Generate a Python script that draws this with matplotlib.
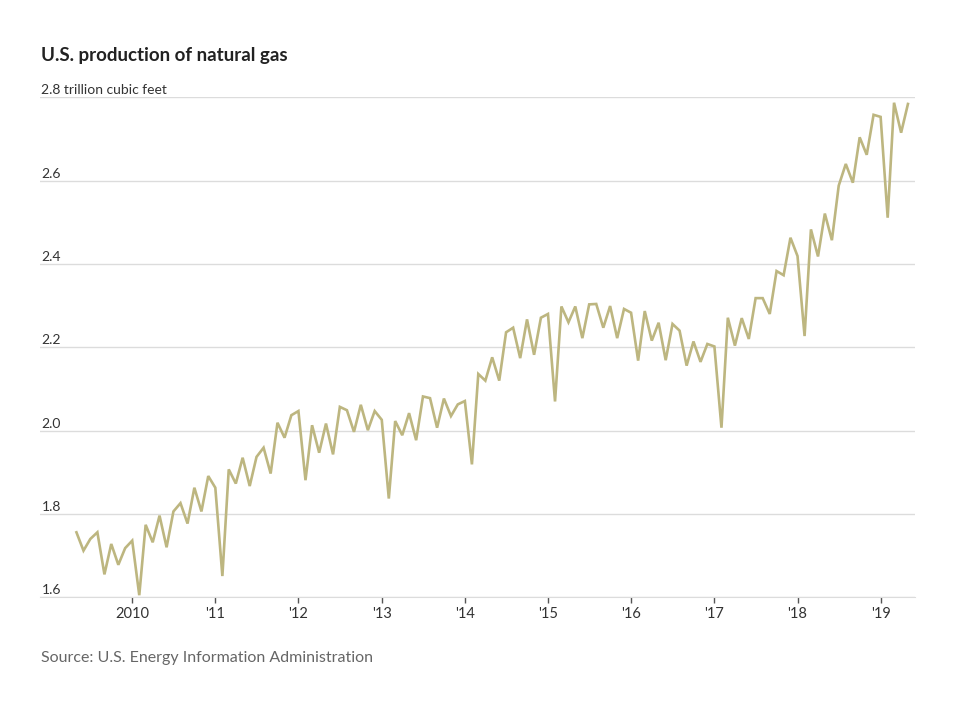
import numpy as np
import pandas as pd
import matplotlib
matplotlib.use('Agg')
import matplotlib.pyplot as plt
import matplotlib.dates as mdates

# monthly U.S. natural gas production, trillion cubic feet, May 2009 - May 2019
months = pd.date_range('2009-05-01', periods=121, freq='MS')
production = [
	1.756, 1.712, 1.740, 1.756, 1.655, 1.728, 1.678, 1.718,            # 2009 May-Dec
	1.736, 1.605, 1.774, 1.732, 1.796, 1.720, 1.806, 1.826, 1.777, 1.863, 1.806, 1.891,  # 2010
	1.863, 1.651, 1.907, 1.873, 1.935, 1.867, 1.937, 1.959, 1.897, 2.019, 1.983, 2.037,  # 2011
	2.047, 1.881, 2.013, 1.947, 2.017, 1.943, 2.057, 2.049, 1.997, 2.062, 2.001, 2.047,  # 2012
	2.026, 1.837, 2.023, 1.989, 2.042, 1.977, 2.082, 2.078, 2.007, 2.077, 2.035, 2.063,  # 2013
	2.071, 1.919, 2.136, 2.120, 2.176, 2.120, 2.236, 2.247, 2.174, 2.267, 2.182, 2.271,  # 2014
	2.280, 2.070, 2.298, 2.260, 2.298, 2.222, 2.303, 2.304, 2.247, 2.299, 2.222, 2.292,  # 2015
	2.283, 2.168, 2.287, 2.216, 2.259, 2.169, 2.256, 2.240, 2.156, 2.214, 2.165, 2.208,  # 2016
	2.202, 2.007, 2.271, 2.204, 2.270, 2.220, 2.318, 2.318, 2.280, 2.383, 2.373, 2.463,  # 2017
	2.419, 2.227, 2.483, 2.418, 2.521, 2.457, 2.588, 2.640, 2.595, 2.704, 2.662, 2.758,  # 2018
	2.753, 2.511, 2.787, 2.715, 2.784,                                   # 2019 Jan-May
]
years = [2010, 2011, 2012, 2013, 2014, 2015, 2016, 2017, 2018, 2019]
year_labels = ['2010', "'11", "'12", "'13", "'14", "'15", "'16", "'17", "'18", "'19"]
y_ticks = [1.6, 1.8, 2.0, 2.2, 2.4, 2.6, 2.8]
y_labels = ['1.6', '1.8', '2.0', '2.2', '2.4', '2.6', '2.8 trillion cubic feet']

plt.rcParams['font.family'] = ['Lato', 'DejaVu Sans']

fig = plt.figure(figsize=(9.6, 7.2), dpi=100)
ax = fig.add_axes([40/960, 1-597.3/720, 875/960, 500/720])

ax.plot(months, production, color='#bdb680', lw=1.9, solid_joinstyle='miter')

ax.set_ylim(1.6, 2.8)
ax.set_xlim(pd.Timestamp('2008-11-22'), pd.Timestamp('2019-06-01'))

# gridlines; the bottom one doubles as the axis
ax.set_yticks(y_ticks)
ax.yaxis.grid(True, color='#dcdcdc', lw=1)
ax.tick_params(axis='y', length=0, labelleft=False)
for v, lab in zip(y_ticks, y_labels):
	ax.annotate(lab, xy=(0, v), xycoords=('axes fraction', 'data'),
		xytext=(1, 0.8), textcoords='offset points', ha='left', va='bottom',
		fontsize=10, color='#333333')

ax.set_xticks([pd.Timestamp(f'{y}-01-01') for y in years])
ax.set_xticklabels(year_labels)
ax.tick_params(axis='x', length=4, width=1, color='#555555', direction='out',
	pad=3, labelsize=10.5, labelcolor='#333333')

for s in ['top', 'right', 'left']:
	ax.spines[s].set_visible(False)
ax.spines['bottom'].set_color('#dcdcdc')
ax.set_axisbelow(True)

fig.text(41/960, 1-55/720, 'U.S. production of natural gas', fontsize=13.5,
	fontweight='bold', color='#222222', ha='left', va='center')
fig.text(41/960, 1-658/720, 'Source: U.S. Energy Information Administration',
	fontsize=11.5, color='#666666', ha='left', va='center')

fig.savefig('out.png', dpi=100)
